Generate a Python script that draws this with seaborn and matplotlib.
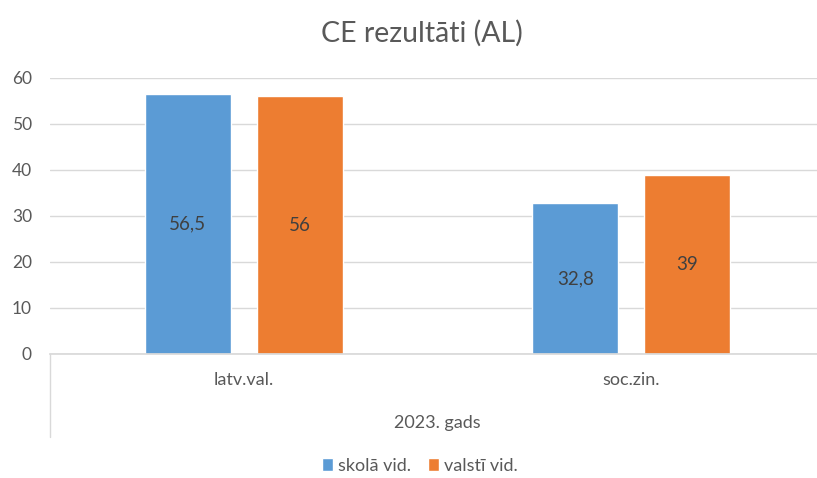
import matplotlib
matplotlib.use("Agg")
import matplotlib.pyplot as plt
import seaborn as sns
import pandas as pd
from matplotlib.patches import Patch

categories = ["latv.val.", "soc.zin."]
series_names = ["skolā vid.", "valstī vid."]
skola_vid = [56.5, 32.8]
valsti_vid = [56, 39]
group_label = "2023. gads"
title = "CE rezultāti (AL)"
colors = ["#5B9BD5", "#ED7D31"]

df = pd.DataFrame({
    "cat": categories * 2,
    "series": [series_names[0]] * 2 + [series_names[1]] * 2,
    "val": skola_vid + valsti_vid,
})

sns.set_theme(style="white")
plt.rcParams["font.family"] = ["Lato", "DejaVu Sans"]
txt = "#595959"

fig = plt.figure(figsize=(8.17, 4.78), dpi=100)
ax = fig.add_axes([50 / 817, 124 / 478, 775 / 817, 276 / 478])

sns.barplot(data=df, x="cat", y="val", hue="series", palette=colors,
            width=0.576, gap=0.23, ax=ax, legend=False, saturation=1)

ax.set_xlim(-0.5, 1.5)
ax.set_ylim(0, 60)
ax.set_yticks(range(0, 61, 10))
ax.grid(axis="y", color="#D9D9D9", linewidth=1)
ax.set_axisbelow(True)
for s in ["top", "right", "left"]:
    ax.spines[s].set_visible(False)
ax.spines["bottom"].set_color("#D9D9D9")
ax.set_xlabel("")
ax.set_ylabel("")
ax.tick_params(axis="y", colors=txt, labelsize=12.5, length=0, pad=13)
ax.tick_params(axis="x", colors=txt, labelsize=13, length=0, pad=13)

for cont, vals in zip(ax.containers, [skola_vid, valsti_vid]):
    labels = [(f"{v:g}").replace(".", ",") for v in vals]
    ax.bar_label(cont, labels=labels, label_type="center", color="#404040", fontsize=13.5)

# category-axis left boundary line
ax.plot([0, 0], [0, -(437 - 354) / 276], transform=ax.transAxes,
        color="#D9D9D9", linewidth=1, clip_on=False)
ax.text(0.5, -(423 - 354) / 276, group_label, transform=ax.transAxes,
        ha="center", va="center", color=txt, fontsize=13)

fig.text(422 / 817, 1 - 33 / 478, title, ha="center", va="center",
         color=txt, fontsize=20.5)

handles = [Patch(facecolor=c, label=n) for c, n in zip(colors, series_names)]
fig.legend(handles=handles, loc="center", bbox_to_anchor=(420 / 817, 1 - 466 / 478),
           ncol=2, frameon=False, fontsize=13, labelcolor=txt,
           handlelength=0.6, handleheight=0.7, handletextpad=0.3, columnspacing=0.9)

fig.savefig("out.png", dpi=100)
